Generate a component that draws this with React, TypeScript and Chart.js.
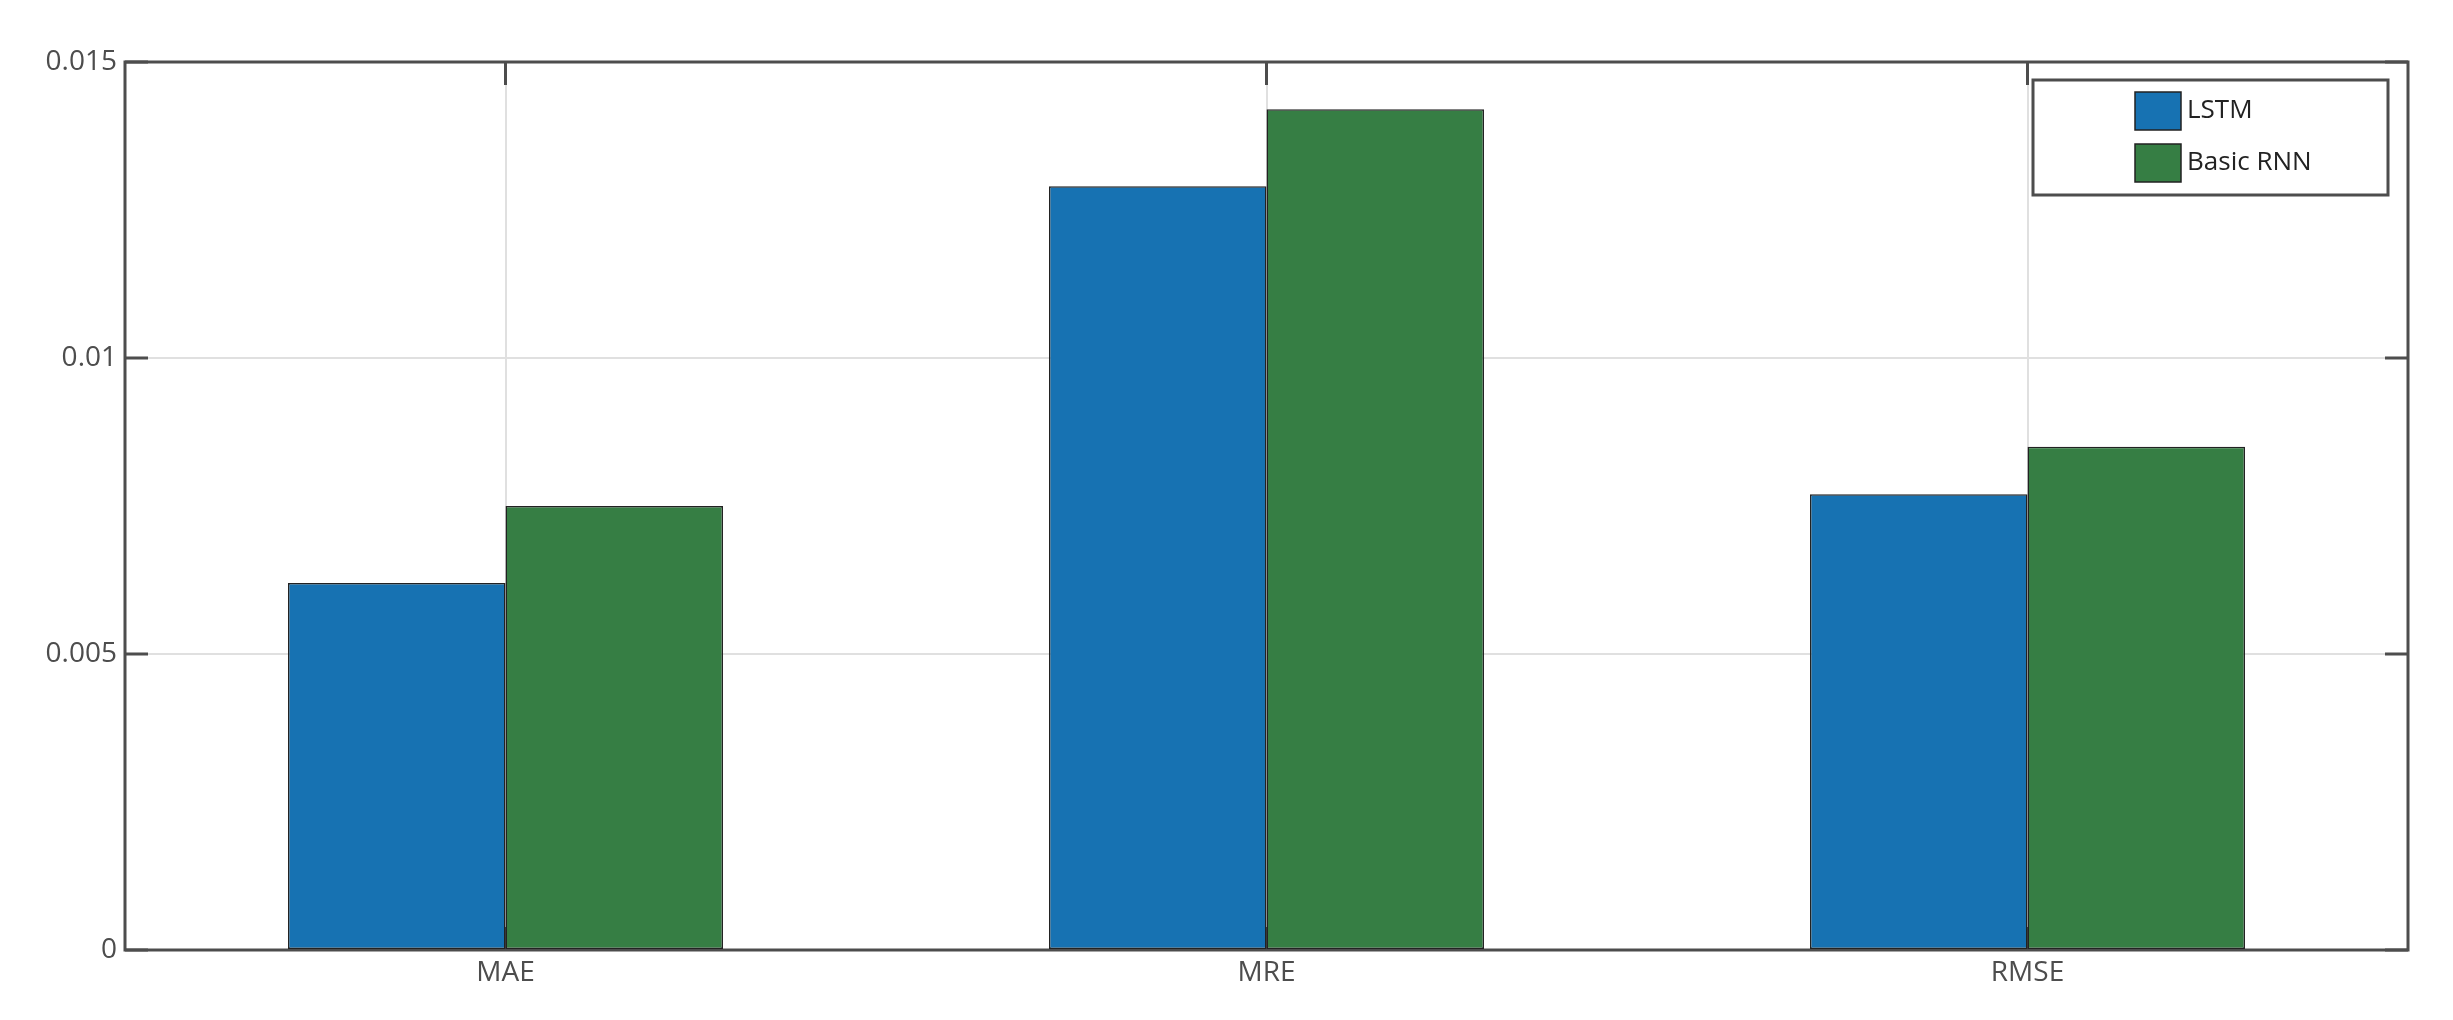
import React, { useEffect, useRef } from "react";
import { Chart, registerables } from "chart.js";

Chart.register(...registerables);

const categories = ["MAE", "MRE", "RMSE"];
const seriesNames = ["LSTM", "Basic RNN"];
const lstmValues = [0.0062, 0.0129, 0.0077];
const rnnValues = [0.0075, 0.0142, 0.0085];
const yTickValues = [0, 0.005, 0.01, 0.015];
const yTickLabels = ["0", "0.005", "0.01", "0.015"];
const seriesColors = ["#1772b2", "#367e44"];

const W = 2453;
const H = 1020;
const FONT = "'Open Sans', 'Noto Sans', sans-serif";
const AXIS = "#4d4d4d";

const framePlugin = {
  id: "matlabFrame",
  beforeDatasetsDraw(chart: any) {
    const { ctx, chartArea } = chart;
    const { left, right, top, bottom } = chartArea;
    const xs = chart.scales.x;
    const ys = chart.scales.y;
    ctx.save();
    ctx.strokeStyle = AXIS;
    ctx.lineWidth = 3;
    ctx.strokeRect(left, top, right - left, bottom - top);
    const tl = 23;
    ctx.beginPath();
    yTickValues.forEach((v) => {
      const y = ys.getPixelForValue(v);
      ctx.moveTo(left, y);
      ctx.lineTo(left + tl, y);
      ctx.moveTo(right, y);
      ctx.lineTo(right - tl, y);
    });
    categories.forEach((_, i) => {
      const x = xs.getPixelForValue(i);
      ctx.moveTo(x, top);
      ctx.lineTo(x, top + tl);
      ctx.moveTo(x, bottom);
      ctx.lineTo(x, bottom - tl);
    });
    ctx.stroke();
    ctx.restore();
  },
};

const legendPlugin = {
  id: "boxLegend",
  afterDraw(chart: any) {
    const { ctx, chartArea } = chart;
    const bw = 355;
    const bh = 115;
    const bx = chartArea.right - 20 - bw;
    const by = chartArea.top + 18;
    ctx.save();
    ctx.fillStyle = "#ffffff";
    ctx.fillRect(bx, by, bw, bh);
    ctx.strokeStyle = AXIS;
    ctx.lineWidth = 3;
    ctx.strokeRect(bx, by, bw, bh);
    chart.data.datasets.forEach((ds: any, i: number) => {
      const sx = bx + 102;
      const sy = by + 12 + i * 52;
      ctx.fillStyle = ds.backgroundColor;
      ctx.fillRect(sx, sy, 46, 38);
      ctx.strokeStyle = "#222";
      ctx.lineWidth = 1.5;
      ctx.strokeRect(sx, sy, 46, 38);
      ctx.fillStyle = "#222";
      ctx.font = `26px ${FONT}`;
      ctx.textBaseline = "middle";
      ctx.textAlign = "left";
      ctx.fillText(ds.label, sx + 52, sy + 19);
    });
    ctx.restore();
  },
};

export default function App() {
  const ref = useRef<HTMLCanvasElement | null>(null);
  useEffect(() => {
    if (!ref.current) return;
    const chart = new Chart(ref.current, {
      type: "bar",
      data: {
        labels: categories,
        datasets: [
          {
            label: seriesNames[0],
            data: lstmValues,
            backgroundColor: seriesColors[0],
            borderColor: "#222",
            borderWidth: 1.5,
            borderSkipped: false,
            categoryPercentage: 0.5716,
            barPercentage: 1,
          },
          {
            label: seriesNames[1],
            data: rnnValues,
            backgroundColor: seriesColors[1],
            borderColor: "#222",
            borderWidth: 1.5,
            borderSkipped: false,
            categoryPercentage: 0.5716,
            barPercentage: 1,
          },
        ],
      },
      options: {
        responsive: false,
        animation: false,
        devicePixelRatio: 1,
        layout: { padding: { top: 62, right: 45, left: 0, bottom: 0 } },
        plugins: {
          legend: { display: false },
          tooltip: { enabled: false },
        },
        scales: {
          x: {
            offset: true,
            grid: { offset: false, color: "#e0e0e0", lineWidth: 2, drawTicks: false },
            border: { display: false },
            ticks: {
              font: { family: FONT, size: 28 },
              color: AXIS,
              padding: 6,
              maxRotation: 0,
            },
            afterFit: (s: any) => {
              s.height = 70;
            },
          },
          y: {
            min: 0,
            max: 0.015,
            grid: { color: "#e0e0e0", lineWidth: 2, drawTicks: false },
            border: { display: false },
            afterBuildTicks: (s: any) => {
              s.ticks = yTickValues.map((v) => ({ value: v }));
            },
            ticks: {
              font: { family: FONT, size: 28 },
              color: AXIS,
              padding: 8,
              callback: (v: any) => {
                const i = yTickValues.findIndex((t) => Math.abs(t - Number(v)) < 1e-9);
                return i >= 0 ? yTickLabels[i] : "";
              },
            },
            afterFit: (s: any) => {
              s.width = 125;
            },
          },
        },
      },
      plugins: [framePlugin, legendPlugin],
    });
    return () => chart.destroy();
  }, []);
  return (
    <div style={{ position: "fixed", left: 0, top: 0, width: W, height: H, background: "#fff" }}>
      <canvas ref={ref} width={W} height={H} style={{ display: "block", width: W, height: H }} />
    </div>
  );
}
